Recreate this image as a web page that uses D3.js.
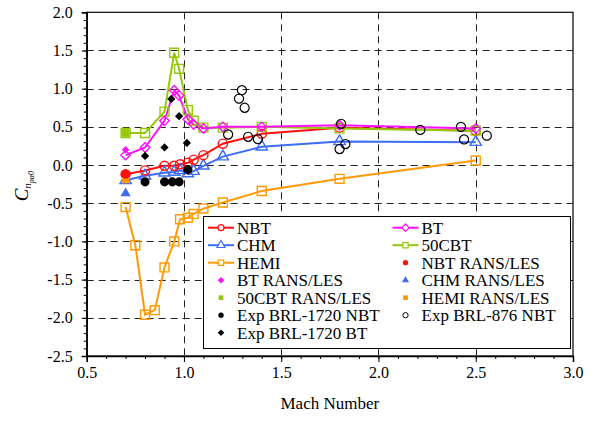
<!DOCTYPE html>
<html>
<head>
<meta charset="utf-8">
<script src="https://cdn.jsdelivr.net/npm/d3@7"></script>
<style>
  html, body { margin: 0; padding: 0; background: #fff; }
  svg text { font-family: "Liberation Serif", "Times New Roman", serif; fill: #000; }
</style>
</head>
<body>
<div id="chart"></div>
<script>
// ---- data ----
const nbtMach  = [0.7, 0.8, 0.9, 0.95, 0.98, 1.02, 1.05, 1.1, 1.2, 1.4, 1.8, 2.5];
const nbtC     = [-0.12, -0.07, -0.01, -0.01, 0.01, 0.03, 0.07, 0.13, 0.28, 0.41, 0.49, 0.45];

const chmMach  = [0.7, 0.8, 0.9, 0.95, 0.98, 1.02, 1.05, 1.1, 1.2, 1.4, 1.8, 2.5];
const chmC     = [-0.20, -0.14, -0.10, -0.09, -0.07, -0.11, -0.08, -0.01, 0.11, 0.24, 0.31, 0.30];

const hemiMach = [0.7, 0.75, 0.8, 0.85, 0.9, 0.95, 0.98, 1.02, 1.05, 1.1, 1.2, 1.4, 1.8, 2.5];
const hemiC    = [-0.55, -1.05, -1.96, -1.90, -1.34, -1.00, -0.71, -0.69, -0.64, -0.57, -0.49, -0.34, -0.18, 0.06];

const btMach   = [0.7, 0.8, 0.9, 0.95, 0.975, 1.02, 1.05, 1.1, 1.2, 1.4, 1.8, 2.5];
const btC      = [0.13, 0.23, 0.58, 0.98, 0.91, 0.60, 0.53, 0.48, 0.50, 0.50, 0.52, 0.48];

const cbtMach  = [0.7, 0.8, 0.9, 0.95, 0.975, 1.02, 1.05, 1.1, 1.2, 1.4, 1.8, 2.5];
const cbtC     = [0.42, 0.42, 0.70, 1.47, 1.26, 0.72, 0.58, 0.49, 0.49, 0.50, 0.48, 0.45];

// RANS/LES single points
const nbtLesMach = [0.7],  nbtLesC = [-0.12];
const btLesMach  = [0.7],  btLesC  = [0.20];
const cbtLesMach = [0.7],  cbtLesC = [0.42];
const chmLesMach = [0.7],  chmLesC = [-0.37];
const hemiLesMach = [0.7], hemiLesC = [-0.19];

// experiments
const exp1720NbtMach = [0.8, 0.9, 0.94, 0.975, 1.02];
const exp1720NbtC    = [-0.22, -0.22, -0.22, -0.22, -0.06];
const exp1720BtMach  = [0.8, 0.9, 0.935, 0.975, 1.015];
const exp1720BtC     = [0.12, 0.23, 0.865, 0.64, 0.29];
const exp876Mach     = [1.298, 1.283, 1.312, 1.227, 1.33, 1.38, 1.808, 1.80, 1.83, 2.215, 2.424, 2.44, 2.557];
const exp876C        = [0.98, 0.87, 0.75, 0.40, 0.37, 0.34, 0.54, 0.21, 0.275, 0.46, 0.50, 0.335, 0.385];

const xTicks = [0.5, 1.0, 1.5, 2.0, 2.5, 3.0];
const yTicks = [2.0, 1.5, 1.0, 0.5, 0.0, -0.5, -1.0, -1.5, -2.0, -2.5];

const RED = '#ff1010', BLUE = '#3d6cf5', ORANGE = '#ff9a05', MAGENTA = '#ff10ff', GREEN = '#96c80a';

const width = 594, height = 423;
const margin = { top: 12.3, right: 21, bottom: 67, left: 86.7 };

const svg = d3.select('#chart').append('svg')
  .attr('width', width)
  .attr('height', height);

const x = d3.scaleLinear().domain([0.5, 3.0]).range([margin.left, width - margin.right]);
const y = d3.scaleLinear().domain([-2.5, 2.0]).range([height - margin.bottom, margin.top]);

const zip = (a, b) => a.map((m, i) => [m, b[i]]);

// ---- grid ----
const grid = svg.append('g').attr('stroke', '#222').attr('stroke-width', 1).attr('stroke-dasharray', '7,5');
grid.selectAll('line.h')
  .data(yTicks.filter(v => v > -2.5 && v < 2.0))
  .join('line')
  .attr('x1', x(0.5)).attr('x2', x(3.0))
  .attr('y1', d => Math.round(y(d)) + 0.5).attr('y2', d => Math.round(y(d)) + 0.5);
grid.selectAll('line.v')
  .data(xTicks.filter(v => v > 0.5 && v < 3.0))
  .join('line')
  .attr('y1', y(2.0)).attr('y2', y(-2.5))
  .attr('x1', d => Math.round(x(d)) + 0.5).attr('x2', d => Math.round(x(d)) + 0.5);

// ---- frame ----
svg.append('rect')
  .attr('x', x(0.5)).attr('y', y(2.0))
  .attr('width', x(3.0) - x(0.5)).attr('height', y(-2.5) - y(2.0))
  .attr('fill', 'none').attr('stroke', '#000').attr('stroke-width', 1.2);

// ---- axes ----
const xAxis = svg.append('g').attr('transform', `translate(0,${y(-2.5)})`);
xAxis.call(d3.axisBottom(x).tickValues(d3.range(5, 31).map(v => v / 10)).tickSize(3).tickFormat(''))
  .call(g => g.select('.domain').remove());
xAxis.call(g => g.append('g').call(d3.axisBottom(x).tickValues(xTicks).tickSize(6).tickPadding(5).tickFormat(d3.format('.1f'))))
  .call(g => g.selectAll('.domain').attr('stroke-width', 1.5));
xAxis.selectAll('text').attr('font-size', 16).attr('font-family', '"Liberation Serif", serif').attr('fill', '#000');

const yAxis = svg.append('g').attr('transform', `translate(${x(0.5)},0)`);
yAxis.call(d3.axisLeft(y).tickValues(d3.range(-25, 21).map(v => v / 10)).tickSize(3).tickFormat(''))
  .call(g => g.select('.domain').remove());
yAxis.call(g => g.append('g').call(d3.axisLeft(y).tickValues(yTicks).tickSize(5).tickPadding(9).tickFormat(d3.format('.1f'))))
  .call(g => g.selectAll('.domain').attr('stroke-width', 1.5));
yAxis.selectAll('text').attr('font-size', 16).attr('font-family', '"Liberation Serif", serif').attr('fill', '#000')
  .text(function() { return this.textContent.replace('\u2212', '-'); });

// axis titles
svg.append('text')
  .attr('x', (x(0.5) + x(3.0)) / 2).attr('y', 409)
  .attr('text-anchor', 'middle').attr('font-size', 17)
  .text('Mach Number');

const yl = svg.append('text')
  .attr('transform', `translate(28,${y(-0.25) + 2}) rotate(-90)`)
  .attr('text-anchor', 'middle').attr('fill', '#333');
yl.append('tspan').attr('font-size', 19).attr('font-style', 'italic').text('C');
yl.append('tspan').attr('font-size', 11).attr('font-style', 'italic').attr('dy', 3).text('n');
yl.append('tspan').attr('font-size', 8).attr('font-style', 'italic').attr('dy', 3).text('pα0');

// ---- markers ----
// square diamond (equal diagonals), like the plotting program's
const symbolRhomb = {
  draw(ctx, size) {
    const r = Math.sqrt(size / 2);
    ctx.moveTo(0, -r); ctx.lineTo(r, 0); ctx.lineTo(0, r); ctx.lineTo(-r, 0); ctx.closePath();
  }
};
const sym = {
  circle:   d3.symbol().type(d3.symbolCircle),
  square:   d3.symbol().type(d3.symbolSquare),
  triangle: d3.symbol().type(d3.symbolTriangle),
  diamond:  d3.symbol().type(symbolRhomb)
};
function markers(g, pts, type, size, fill, stroke, sw) {
  g.append('g').selectAll('path')
    .data(pts)
    .join('path')
    .attr('transform', d => `translate(${x(d[0])},${y(d[1])})`)
    .attr('d', sym[type].size(size)())
    .attr('fill', fill)
    .attr('stroke', stroke)
    .attr('stroke-width', sw);
}

const line = d3.line().x(d => x(d[0])).y(d => y(d[1]));
const plot = svg.append('g');

const series = [
  { name: 'HEMI',  pts: zip(hemiMach, hemiC), color: ORANGE,  type: 'square',   size: 80 },
  { name: 'CHM',   pts: zip(chmMach, chmC),   color: BLUE,    type: 'triangle', size: 55 },
  { name: 'NBT',   pts: zip(nbtMach, nbtC),   color: RED,     type: 'circle',   size: 65 },
  { name: '50CBT', pts: zip(cbtMach, cbtC),   color: GREEN,   type: 'square',   size: 80 },
  { name: 'BT',    pts: zip(btMach, btC),     color: MAGENTA, type: 'diamond',  size: 45 }
];
series.forEach(s => {
  plot.append('path').datum(s.pts)
    .attr('fill', 'none').attr('stroke', s.color).attr('stroke-width', 2).attr('d', line);
});
series.forEach(s => markers(plot, s.pts, s.type, s.size, 'none', s.color, 1.4));

// RANS/LES
markers(plot, zip(chmLesMach, chmLesC),   'triangle', 45, BLUE,    'none', 0);
markers(plot, zip(cbtLesMach, cbtLesC),   'square',   60, GREEN,   'none', 0);
markers(plot, zip(btLesMach, btLesC),     'diamond',  28, MAGENTA, 'none', 0);
markers(plot, zip(hemiLesMach, hemiLesC), 'square',   55, ORANGE,  'none', 0);
markers(plot, zip(nbtLesMach, nbtLesC),   'circle',   65, RED,     'none', 0);

// experiments
markers(plot, zip(exp1720NbtMach, exp1720NbtC), 'circle',  65, '#000', 'none', 0);
markers(plot, zip(exp1720BtMach, exp1720BtC),   'diamond', 34, '#000', 'none', 0);
markers(plot, zip(exp876Mach, exp876C),         'circle',  65, 'none', '#000', 1.2);

// ---- legend ----
const legendItems = [
  { label: 'NBT',              col: 0, row: 0, color: RED,     type: 'circle',   line: true },
  { label: 'CHM',              col: 0, row: 1, color: BLUE,    type: 'triangle', line: true },
  { label: 'HEMI',             col: 0, row: 2, color: ORANGE,  type: 'square',   line: true },
  { label: 'BT RANS/LES',      col: 0, row: 3, color: MAGENTA, type: 'diamond',  line: false },
  { label: '50CBT RANS/LES',   col: 0, row: 4, color: GREEN,   type: 'square',   line: false },
  { label: 'Exp BRL-1720 NBT', col: 0, row: 5, color: '#000',  type: 'circle',   line: false },
  { label: 'Exp BRL-1720 BT',  col: 0, row: 6, color: '#000',  type: 'diamond',  line: false },
  { label: 'BT',               col: 1, row: 0, color: MAGENTA, type: 'diamond',  line: true },
  { label: '50CBT',            col: 1, row: 1, color: GREEN,   type: 'square',   line: true },
  { label: 'NBT RANS/LES',     col: 1, row: 2, color: RED,     type: 'circle',   line: false },
  { label: 'CHM RANS/LES',     col: 1, row: 3, color: BLUE,    type: 'triangle', line: false },
  { label: 'HEMI RANS/LES',    col: 1, row: 4, color: ORANGE,  type: 'square',   line: false },
  { label: 'Exp BRL-876 NBT',  col: 1, row: 5, color: '#000',  type: 'circle',   line: false, open: true }
];
const lg = svg.append('g');
lg.append('rect')
  .attr('x', 203.5).attr('y', 216.5).attr('width', 367).attr('height', 132)
  .attr('fill', '#fff').attr('stroke', '#000').attr('stroke-width', 1);

const colX = [221, 405.5];
const rowY = r => 227.7 + r * 17.5;

const li = lg.selectAll('g.item').data(legendItems).join('g')
  .attr('class', 'item')
  .attr('transform', d => `translate(${colX[d.col]},${rowY(d.row)})`);
li.filter(d => d.line).append('line')
  .attr('x1', -13).attr('x2', 13)
  .attr('stroke', d => d.color).attr('stroke-width', 2);
li.append('path')
  .attr('d', d => sym[d.type].size(d.line ? 28 : 22)())
  .attr('fill', d => d.line ? '#fff' : (d.open ? 'none' : d.color))
  .attr('stroke', d => d.line ? d.color : (d.open ? '#000' : 'none'))
  .attr('stroke-width', d => d.line ? 1.2 : 1);
li.append('text')
  .attr('x', 16).attr('y', 5.8)
  .attr('font-size', 17)
  .text(d => d.label);
</script>
</body>
</html>
